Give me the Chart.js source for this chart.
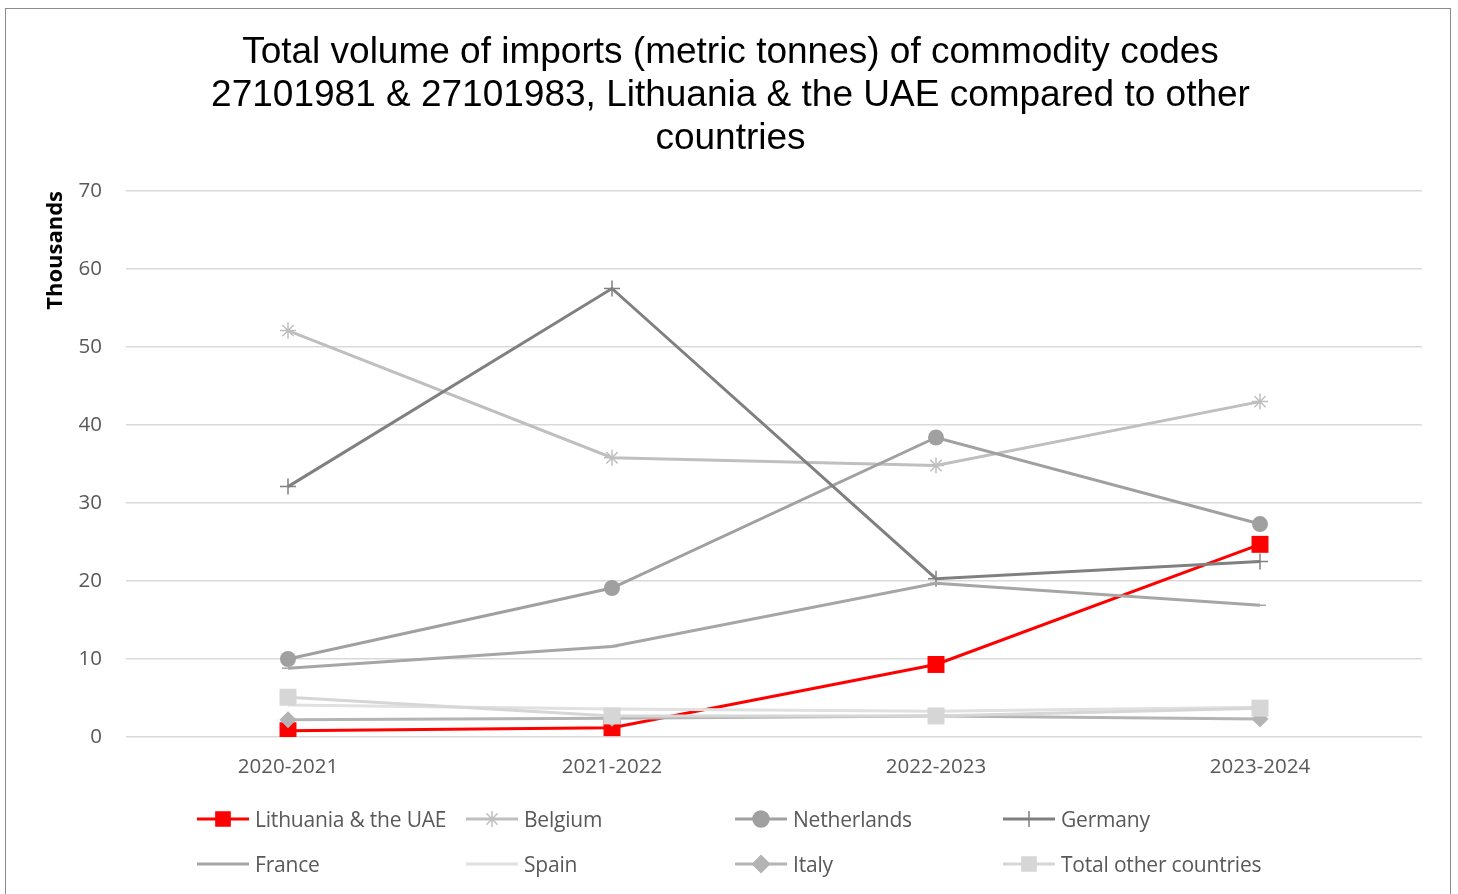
<!DOCTYPE html>
<html>
<head>
<meta charset="utf-8">
<script src="https://cdn.jsdelivr.net/npm/chart.js@4.4.1/dist/chart.umd.min.js"></script>
<style>
  body { margin: 0; background: #fff; }
  #box { position: absolute; left: 5px; top: 8px; width: 1446px; height: 900px; border: 1px solid #8c8c8c; box-sizing: border-box; }
  #chart { position: absolute; left: 0; top: 0; }
  .item { position: absolute; display: flex; align-items: center; font: 21px "Open Sans", sans-serif; color: #595959; white-space: nowrap; letter-spacing: -0.2px; }
  .item canvas { margin-right: 4px; }
</style>
</head>
<body>
<div id="box"><canvas id="chart" width="1444" height="886"></canvas></div>
<div id="legend"></div>
<script>
const categories = ["2020-2021", "2021-2022", "2022-2023", "2023-2024"];
const lithuania = [0.8, 1.2, 9.3, 24.7];
const belgium = [52.1, 35.8, 34.8, 43.0];
const netherlands = [10.0, 19.1, 38.4, 27.3];
const germany = [32.1, 57.5, 20.3, 22.5];
const france = [8.8, 11.6, 19.7, 16.9];
const spain = [4.1, 3.6, 3.3, 3.8];
const italy = [2.2, 2.4, 2.7, 2.3];
const otherCountries = [5.1, 2.7, 2.7, 3.7];
const yMax = 70;
const yStep = 10;

const titleLines = [
  "Total volume of imports (metric tonnes) of commodity codes",
  "27101981 & 27101983, Lithuania & the UAE compared to other",
  "countries"
];

const series = [
  { label: "Lithuania & the UAE", data: lithuania, color: "#ff0000", style: "rect", radius: 12 },
  { label: "Belgium", data: belgium, color: "#bfbfbf", style: "star", radius: 8 },
  { label: "Netherlands", data: netherlands, color: "#a0a0a0", style: "circle", radius: 8 },
  { label: "Germany", data: germany, color: "#808080", style: "cross", radius: 8 },
  { label: "France", data: france, color: "#a6a6a6", style: "line", radius: 6 },
  { label: "Spain", data: spain, color: "#e0e0e0", style: false, radius: 0 },
  { label: "Italy", data: italy, color: "#b4b4b4", style: "rectRot", radius: 8.5 },
  { label: "Total other countries", data: otherCountries, color: "#d6d6d6", style: "rect", radius: 12 }
];

const datasets = series.map((s, i) => ({
  label: s.label,
  data: s.data,
  borderColor: s.color,
  backgroundColor: s.color,
  borderWidth: 3,
  pointStyle: s.style,
  pointRadius: s.radius,
  pointHoverRadius: s.radius,
  pointBorderWidth: (s.style === "star" || s.style === "cross" || s.style === "line") ? 1.5 : 0,
  pointBorderColor: s.color,
  tension: 0,
  order: series.length - i
}));

const tickFont = { family: "'Open Sans', sans-serif", size: 20.5 };

new Chart(document.getElementById("chart"), {
  type: "line",
  data: { labels: categories, datasets: datasets },
  options: {
    responsive: false,
    animation: false,
    layout: { padding: { left: 33, right: 28, bottom: 108, top: 0 } },
    plugins: {
      legend: { display: false },
      tooltip: { enabled: false },
      title: {
        display: true,
        text: titleLines,
        color: "#000",
        font: { family: "'Liberation Sans', Arial, sans-serif", size: 37, weight: "normal", lineHeight: 43 / 37 },
        padding: { top: 22, bottom: 31 }
      }
    },
    scales: {
      x: {
        offset: true,
        grid: { display: false, drawTicks: false },
        border: { display: false },
        ticks: { color: "#595959", font: tickFont, padding: 18, maxRotation: 0 },
        afterFit: s => { s.height = 50; }
      },
      y: {
        min: 0,
        max: yMax,
        grid: { color: "#d9d9d9", lineWidth: 1.5, drawTicks: false },
        border: { display: false },
        ticks: { stepSize: yStep, color: "#595959", font: tickFont, padding: 24 },
        title: {
          display: true,
          text: "Thousands",
          align: "end",
          color: "#000",
          font: { family: "'Open Sans', sans-serif", size: 22, weight: "bold" }
        },
        afterFit: s => { s.width = 87; }
      }
    }
  }
});

// legend in the Excel-like grid
const colX = [197, 466, 735, 1003];
const rowY = [819, 864];
const legend = document.getElementById("legend");
const drawPoint = Chart.helpers && Chart.helpers.drawPoint;
series.forEach((s, i) => {
  const item = document.createElement("div");
  item.className = "item";
  item.style.left = colX[i % 4] + "px";
  item.style.top = (rowY[Math.floor(i / 4)] - 14) + "px";
  const c = document.createElement("canvas");
  c.width = 54; c.height = 28;
  const ctx = c.getContext("2d");
  ctx.strokeStyle = s.color;
  ctx.fillStyle = s.color;
  ctx.lineWidth = 3;
  ctx.beginPath(); ctx.moveTo(0, 14); ctx.lineTo(52, 14); ctx.stroke();
  if (s.style && s.style !== "line" && drawPoint) {
    ctx.lineWidth = 1.5;
    drawPoint(ctx, { pointStyle: s.style, radius: Math.min(s.radius, 10), rotation: 0, borderWidth: 1.5 }, 26, 14);
  }
  item.appendChild(c);
  const t = document.createElement("span");
  t.textContent = s.label;
  item.appendChild(t);
  legend.appendChild(item);
});
</script>
</body>
</html>
